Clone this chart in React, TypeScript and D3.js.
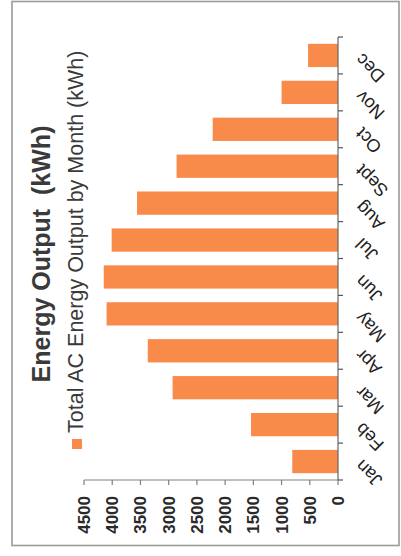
import { scaleBand, scaleLinear } from "d3";

const months = ["Jan", "Feb", "Mar", "Apr", "May", "Jun", "Jul", "Aug", "Sept", "Oct", "Nov", "Dec"];
const energyKwh = [810, 1540, 2930, 3370, 4100, 4150, 4010, 3560, 2860, 2220, 1000, 530];
const valueTicks = [0, 500, 1000, 1500, 2000, 2500, 3000, 3500, 4000, 4500];

const title = "Energy Output  (kWh)";
const seriesName = "Total AC Energy Output by Month (kWh)";

const FONT = "'Liberation Sans', Arial, sans-serif";
const ORANGE = "#F88A4A";

export default function App() {
  const width = 401;
  const height = 556;
  // chart is printed rotated 90° CCW: value axis runs right-to-left, months bottom-to-top
  const axisX = 338;
  const axisY = 480;

  const x = scaleLinear().domain([0, 4500]).range([axisX, 84]);
  const y = scaleBand().domain(months).range([axisY, 37]).paddingInner(0.37).paddingOuter(0.185);
  const gap = (y.step() * y.paddingInner()) / 2;
  const boundaries = [...months.map((m) => (y(m) ?? 0) - gap), axisY];

  return (
    <svg
      width={width}
      height={height}
      style={{ position: "absolute", left: 0, top: 0, background: "#fff" }}
      fontFamily={FONT}
    >
      <rect x={12} y={1.5} width={387} height={544} fill="none" stroke="#9a9a9a" strokeWidth={1.6} />

      {months.map((m, i) => {
        const v = energyKwh[i];
        return (
          <rect key={m} x={x(v)} y={y(m)} width={axisX - x(v)} height={y.bandwidth()} fill={ORANGE} />
        );
      })}

      {/* value axis */}
      <line x1={x(4500)} x2={axisX} y1={axisY} y2={axisY} stroke="#808080" strokeWidth={1.2} />
      {valueTicks.map((t) => (
        <g key={t}>
          <line x1={x(t)} x2={x(t)} y1={axisY} y2={axisY + 5} stroke="#808080" strokeWidth={1.2} />
          <text
            transform={`translate(${x(t)}, 496) rotate(-90)`}
            textAnchor="end"
            dy="0.35em"
            fontSize={17}
            fontWeight="bold"
            fill="#2a2a2a"
          >
            {t}
          </text>
        </g>
      ))}

      {/* category axis */}
      <line x1={axisX} x2={axisX} y1={37} y2={axisY} stroke="#666" strokeWidth={1.2} />
      {boundaries.map((b, i) => (
        <line key={i} x1={axisX} x2={axisX + 5} y1={b} y2={b} stroke="#555" strokeWidth={1.2} />
      ))}
      {months.map((m) => (
        <text
          key={m}
          transform={`translate(363, ${(y(m) ?? 0) + y.bandwidth() / 2 - 3}) rotate(-135)`}
          textAnchor="end"
          fontSize={18}
          fill="#222"
        >
          {m}
        </text>
      ))}

      {/* title + legend */}
      <text
        transform="translate(50, 254) rotate(-90)"
        textAnchor="middle"
        fontSize={25}
        fontWeight="bold"
        fill="#3a3a3a"
        style={{ whiteSpace: "pre" }}
      >
        {title}
      </text>
      <rect x={72} y={439} width={10} height={10} fill={ORANGE} />
      <text transform="translate(83, 433) rotate(-90)" fontSize={21.5} fill="#3a3a3a">
        {seriesName}
      </text>
    </svg>
  );
}
